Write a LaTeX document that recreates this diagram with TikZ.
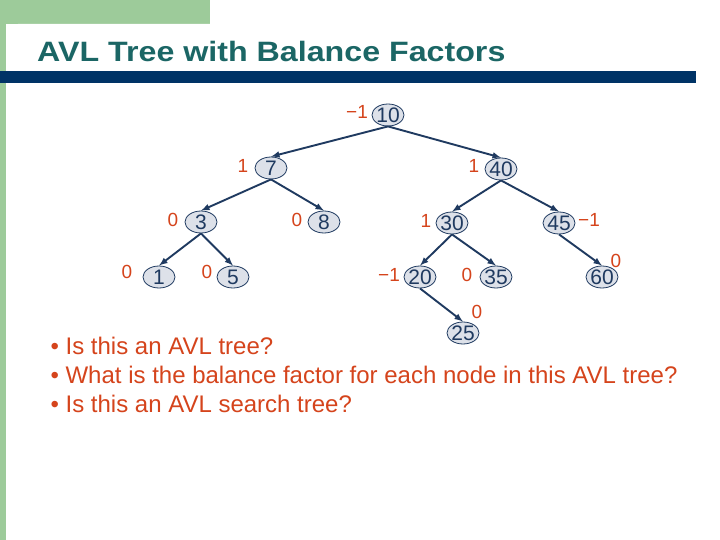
\documentclass[tikz,border=0pt]{standalone}
\usepackage{fontspec}
\setmainfont{Liberation Sans}
\usepackage{tikz}
\usetikzlibrary{arrows, shapes.geometric}
\definecolor{vertclair}{HTML}{9DCB9A}
\definecolor{bleunuit}{HTML}{003366}
\definecolor{titre}{HTML}{1B6665}
\definecolor{fondnoeud}{HTML}{DDE1E9}
\definecolor{bordnoeud}{HTML}{1F3A60}
\definecolor{orangefb}{HTML}{D5441C}

\begin{document}
\begin{tikzpicture}[x=1pt, y=-1pt,
    noeud/.style={ellipse, draw=bordnoeud, line width=0.8pt, fill=fondnoeud, text=bordnoeud,
        inner xsep=-1pt, inner ysep=0pt, text height=15pt, text depth=0pt,
        minimum width=32pt, minimum height=22pt, font=\fontsize{21}{21}\selectfont},
    fb/.style={text=orangefb, font=\fontsize{19}{19}\selectfont},
    arete/.style={-latex, draw=bordnoeud, line width=1.9pt},
    puce/.style={anchor=base west, text=orangefb, font=\fontsize{24}{29}\selectfont}]
    \useasboundingbox (0,0) rectangle (720,540);
    % Fond
    \fill[vertclair] (0,0) rectangle (210,24);
    \fill[vertclair] (0,0) rectangle (6,540);
    \fill[white] (6,540) [rounded corners=12pt] -- (6,24) [sharp corners] -- (720,24) -- (720,540) -- cycle;
    \fill[bleunuit] (0,71) rectangle (696,83);
    % Titre
    \node[anchor=base west, text=titre, font=\fontsize{28}{34}\selectfont\bfseries, inner sep=0pt,
        transform shape, xscale=1.15] (titre) at (37,62) {AVL Tree with Balance Factors};
    % Noeuds de l'arbre
    \node[noeud] (n10) at (388,115) {10};
    \node[noeud] (n7) at (271,168) {7};
    \node[noeud] (n40) at (501,169) {40};
    \node[noeud] (n3) at (201,222) {3};
    \node[noeud] (n8) at (324,222) {8};
    \node[noeud] (n30) at (452,223) {30};
    \node[noeud] (n45) at (559,223) {45};
    \node[noeud] (n1) at (159,277) {1};
    \node[noeud] (n5) at (233,277) {5};
    \node[noeud] (n20) at (420,277) {20};
    \node[noeud] (n35) at (496,277) {35};
    \node[noeud] (n60) at (602,277) {60};
    \node[noeud] (n25) at (463,333) {25};
    % Facteurs d'equilibre
    \node[fb] (b10) at (357,112) {−1};
    \node[fb] (b7) at (243,166) {1};
    \node[fb] (b40) at (474,166) {1};
    \node[fb] (b3) at (173,220) {0};
    \node[fb] (b8) at (297,220) {0};
    \node[fb] (b30) at (426,221) {1};
    \node[fb] (b45) at (589,220) {−1};
    \node[fb] (b1) at (127,272) {0};
    \node[fb] (b5) at (207,272) {0};
    \node[fb] (b20) at (389,275) {−1};
    \node[fb] (b35) at (467,275) {0};
    \node[fb] (b60) at (616,261) {0};
    \node[fb] (b25) at (477,312) {0};
    % Aretes
    \foreach \a/\b in {n10/n7, n10/n40, n7/n3, n7/n8, n3/n1, n3/n5,
        n40/n30, n40/n45, n30/n20, n30/n35, n45/n60, n20/n25}
        \draw[arete] (\a.south) -- (\b.north);
    % Questions
    \node[puce] (q1) at (47,354) {• Is this an AVL tree?};
    \node[puce] (q2) at (47,383) {• What is the balance factor for each node in this AVL tree?};
    \node[puce] (q3) at (47,412) {• Is this an AVL search tree?};
\end{tikzpicture}
\end{document}
